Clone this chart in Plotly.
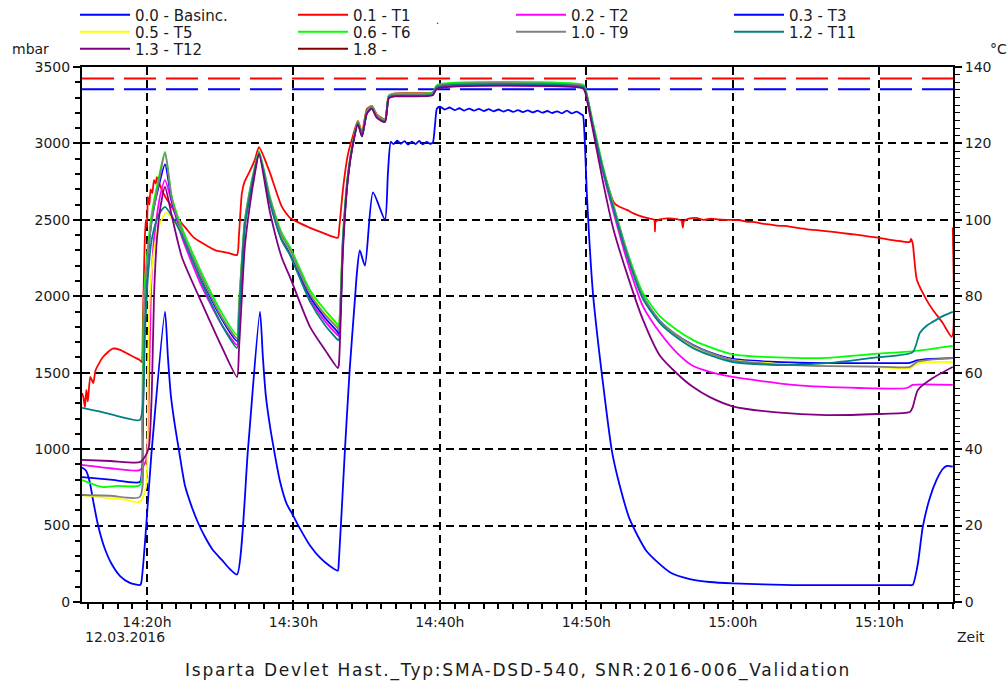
import plotly.graph_objects as go

DAY = "2016-03-12 "
FONT = "DejaVu Sans"

# ---- 0.0 - Basinc. (pressure, mbar, left axis) ----
P_TIME = ["14:15:34", "14:15:50", "14:16:05", "14:16:20", "14:16:40", "14:17:05", "14:17:35", "14:18:10",
          "14:18:50", "14:19:31", "14:19:36", "14:20:20", "14:21:14", "14:21:26", "14:21:38", "14:21:55",
          "14:22:11", "14:22:36", "14:23:04", "14:23:29", "14:23:58", "14:24:30", "14:25:07", "14:25:40",
          "14:26:09", "14:26:54", "14:27:43", "14:27:55", "14:28:07", "14:28:24", "14:28:40", "14:29:05",
          "14:29:33", "14:29:54", "14:30:27", "14:31:08", "14:31:49", "14:32:29", "14:33:02", "14:33:06",
          "14:33:31", "14:33:51", "14:34:12", "14:34:20", "14:34:32", "14:34:53", "14:35:26", "14:36:15",
          "14:36:27", "14:36:39", "14:36:50", "14:37:05", "14:37:20", "14:37:35", "14:37:50", "14:38:05",
          "14:38:20", "14:38:35", "14:38:50", "14:39:05", "14:39:20", "14:39:31", "14:39:40", "14:39:48",
          "14:40:00", "14:40:20", "14:40:40", "14:41:00", "14:41:20", "14:41:40", "14:42:00", "14:42:20",
          "14:42:40", "14:43:00", "14:43:20", "14:43:40", "14:44:00", "14:44:20", "14:44:40", "14:45:00",
          "14:45:20", "14:45:40", "14:46:00", "14:46:20", "14:46:40", "14:47:00", "14:47:20", "14:47:40",
          "14:48:00", "14:48:20", "14:48:40", "14:49:00", "14:49:20", "14:49:40", "14:49:46", "14:49:54",
          "14:50:02", "14:50:27", "14:50:47", "14:51:03", "14:51:44", "14:52:17", "14:52:58", "14:54:08",
          "14:55:42", "14:57:04", "14:58:26", "15:00:00", "15:04:06", "15:08:00", "15:11:00", "15:12:00",
          "15:12:17", "15:12:38", "15:12:58", "15:13:27", "15:13:55", "15:14:20", "15:14:37", "15:15:01"]
P_MBAR = [880, 860, 790, 660, 500, 360, 250, 170,
          125, 110, 120, 1000, 1900, 1600, 1350, 1150,
          994, 760, 621, 520, 425, 340, 275, 215,
          180, 1000, 1900, 1600, 1350, 1150, 1000, 790,
          640, 580, 480, 370, 290, 235, 205, 260,
          994, 1530, 1980, 2150, 2300, 2200, 2680, 2500,
          2800, 3010, 2995, 3018, 2998, 3015, 2992, 3012,
          2996, 3016, 2994, 3010, 2998, 3005, 3120, 3228,
          3240, 3222, 3235, 3218, 3230, 3215, 3228, 3214,
          3226, 3212, 3224, 3210, 3222, 3208, 3220, 3206,
          3218, 3205, 3216, 3203, 3214, 3201, 3212, 3199,
          3210, 3197, 3215, 3196, 3208, 3190, 3185, 3000,
          2675, 2021, 1714, 1498, 994, 760, 540, 330,
          195, 150, 131, 122, 111, 110, 110, 110,
          112, 250, 490, 680, 800, 870, 890, 885]

# ---- 0.1 - T1 (°C, right axis) ----
T1_TIME = ["14:15:34", "14:15:40", "14:15:46", "14:15:52", "14:15:58", "14:16:08", "14:16:20", "14:16:30",
           "14:17:00", "14:17:40", "14:18:10", "14:18:40", "14:19:10", "14:19:31", "14:19:38", "14:19:44",
           "14:19:50", "14:19:55", "14:20:00", "14:20:04", "14:20:10", "14:20:15", "14:20:22", "14:20:29",
           "14:20:36", "14:20:41", "14:20:48", "14:21:00", "14:21:20", "14:21:42", "14:22:10", "14:22:36",
           "14:23:10", "14:23:45", "14:24:39", "14:25:36", "14:26:09", "14:26:17", "14:26:29", "14:26:40",
           "14:26:58", "14:27:22", "14:27:39", "14:28:20", "14:29:13", "14:29:46", "14:30:06", "14:31:08",
           "14:32:01", "14:33:02", "14:33:08", "14:33:23", "14:33:43", "14:34:04", "14:34:24", "14:34:41",
           "14:35:01", "14:35:21", "14:35:42", "14:36:15", "14:36:31", "14:36:56", "14:39:31", "14:39:48",
           "14:49:46", "14:49:54", "14:50:27", "14:51:08", "14:51:49", "14:51:57", "14:52:20", "14:52:46",
           "14:53:20", "14:53:51", "14:54:20", "14:54:38", "14:54:41", "14:54:44", "14:55:01", "14:55:30",
           "14:56:11", "14:56:30", "14:56:35", "14:56:40", "14:57:00", "14:57:30", "14:58:00", "14:58:30",
           "14:59:00", "14:59:35", "15:00:30", "15:01:00", "15:01:30", "15:02:00", "15:02:30", "15:03:00",
           "15:03:30", "15:04:06", "15:05:00", "15:06:00", "15:07:00", "15:08:00", "15:08:40", "15:09:20",
           "15:10:00", "15:10:55", "15:11:30", "15:12:05", "15:12:10", "15:12:17", "15:12:34", "15:13:14",
           "15:13:39", "15:14:20", "15:14:57", "15:15:01"]
T1_VAL = [54.7, 53.5, 51.0, 55.5, 52.5, 58.9, 57.3, 60.7,
          64.1, 66.3, 66.0, 65.0, 64.0, 63.3, 62.8, 75.0,
          92.0, 100.0, 98.0, 106.0, 104.0, 108.0, 107.0, 110.4,
          109.5, 111.2, 110.0, 108.0, 105.5, 103.4, 100.0, 98.1,
          95.5, 94.0, 92.1, 91.3, 90.8, 96.0, 107.0, 110.0,
          112.3, 115.7, 119.0, 113.0, 103.4, 100.5, 99.8, 97.9,
          96.6, 95.3, 98.0, 108.0, 117.0, 122.0, 125.9, 123.0,
          129.0, 129.8, 127.6, 126.3, 132.5, 133.1, 133.4, 134.9,
          134.9, 134.0, 124.5, 113.2, 105.0, 104.2, 103.3, 102.6,
          101.5, 100.8, 100.3, 100.0, 97.0, 99.6, 100.1, 100.4,
          100.2, 99.8, 98.0, 99.7, 100.3, 100.5, 100.0, 100.3,
          100.1, 100.0, 99.9, 99.5, 99.4, 99.0, 98.8, 98.5,
          98.4, 98.1, 97.6, 97.2, 96.8, 96.3, 96.0, 95.6,
          95.3, 94.7, 94.4, 94.2, 95.0, 93.8, 84.3, 79.0,
          76.5, 73.0, 69.4, 98.0]

# ---- 0.2 - T2 ----
T2_TIME = ["14:15:34", "14:17:30", "14:19:31", "14:19:56", "14:20:08", "14:20:16", "14:20:29", "14:20:53",
           "14:21:14", "14:21:42", "14:22:23", "14:23:45", "14:25:07", "14:26:09", "14:26:17", "14:26:29",
           "14:26:41", "14:27:02", "14:27:22", "14:27:39", "14:28:24", "14:29:13", "14:29:46", "14:31:08",
           "14:32:09", "14:33:02", "14:33:06", "14:33:23", "14:33:43", "14:34:04", "14:34:24", "14:34:41",
           "14:35:01", "14:35:21", "14:35:42", "14:36:15", "14:36:31", "14:36:56", "14:39:31", "14:39:48",
           "14:49:46", "14:49:54", "14:50:27", "14:51:08", "14:51:49", "14:52:46", "14:53:51", "14:55:01",
           "14:56:11", "14:57:16", "14:58:26", "15:00:00", "15:04:06", "15:08:40", "15:11:53", "15:12:17",
           "15:15:01"]
T2_VAL = [35.9, 35.0, 34.5, 37.0, 55.0, 80.0, 95.0, 106.0,
          110.4, 104.5, 95.5, 82.5, 72.5, 67.3, 75.0, 87.5,
          98.5, 106.8, 113.2, 117.5, 104.8, 94.7, 91.0, 79.2,
          73.5, 69.8, 69.6, 93.5, 111.0, 120.0, 125.2, 122.0,
          128.0, 129.3, 126.9, 125.8, 132.0, 132.5, 132.8, 134.5,
          134.6, 134.3, 124.3, 112.5, 102.5, 89.5, 77.5, 70.5,
          65.2, 61.8, 60.2, 58.9, 56.8, 56.0, 56.0, 56.8,
          56.8]

# ---- 0.3 - T3 ----
T3_TIME = ["14:15:34", "14:17:30", "14:19:31", "14:19:40", "14:19:48", "14:20:00", "14:20:20", "14:20:49",
           "14:21:14", "14:21:42", "14:22:23", "14:23:45", "14:25:07", "14:26:09", "14:26:17", "14:26:29",
           "14:26:41", "14:27:02", "14:27:22", "14:27:39", "14:28:24", "14:29:13", "14:29:46", "14:31:08",
           "14:32:09", "14:33:02", "14:33:06", "14:33:23", "14:33:43", "14:34:04", "14:34:24", "14:34:41",
           "14:35:01", "14:35:21", "14:35:42", "14:36:15", "14:36:31", "14:36:56", "14:39:31", "14:39:48",
           "14:49:46", "14:49:54", "14:50:27", "14:51:08", "14:51:49", "14:52:46", "14:53:51", "14:55:01",
           "14:56:11", "14:57:16", "14:58:26", "15:00:00", "15:03:00", "15:06:25", "15:09:50", "15:12:05",
           "15:12:34", "15:13:30", "15:15:01"]
T3_VAL = [32.7, 32.0, 31.4, 35.0, 70.0, 87.0, 100.0, 109.0,
          114.5, 105.0, 96.8, 84.5, 74.0, 68.3, 76.0, 88.5,
          99.0, 107.2, 113.4, 117.4, 105.2, 95.3, 91.6, 80.0,
          74.4, 70.6, 70.2, 94.5, 111.2, 120.0, 125.3, 122.1,
          128.1, 129.4, 127.0, 125.9, 132.2, 132.7, 133.0, 134.8,
          134.9, 134.4, 124.9, 113.4, 103.9, 91.4, 80.0, 73.6,
          69.8, 67.3, 65.3, 63.6, 62.8, 62.5, 62.5, 62.6,
          63.2, 63.6, 63.8]

# ---- 0.5 - T5 ----
T5_TIME = ["14:15:34", "14:16:56", "14:18:30", "14:19:31", "14:19:56", "14:20:04", "14:20:12", "14:20:29",
           "14:20:53", "14:21:18", "14:21:42", "14:22:23", "14:23:45", "14:25:07", "14:26:09", "14:26:17",
           "14:26:29", "14:26:41", "14:27:02", "14:27:22", "14:27:39", "14:28:24", "14:29:13", "14:29:46",
           "14:31:08", "14:32:09", "14:33:02", "14:33:06", "14:33:23", "14:33:43", "14:34:04", "14:34:24",
           "14:34:41", "14:35:01", "14:35:21", "14:35:42", "14:36:15", "14:36:31", "14:36:56", "14:39:31",
           "14:39:48", "14:49:46", "14:49:54", "14:50:27", "14:51:08", "14:51:49", "14:52:46", "14:53:51",
           "14:55:01", "14:56:11", "14:57:16", "14:58:26", "15:00:00", "15:03:00", "15:06:25", "15:09:50",
           "15:12:05", "15:12:34", "15:13:30", "15:15:01"]
T5_VAL = [28.0, 27.4, 26.8, 26.2, 30.0, 60.0, 80.0, 92.0,
          99.0, 101.8, 100.5, 96.5, 85.0, 74.6, 69.2, 77.0,
          88.5, 99.0, 107.0, 113.2, 117.3, 105.3, 95.6, 92.0,
          80.8, 75.5, 71.9, 71.2, 94.5, 111.3, 120.1, 125.4,
          122.1, 128.2, 129.5, 127.1, 125.9, 132.3, 132.7, 133.0,
          134.9, 135.0, 134.4, 124.8, 113.3, 103.8, 91.3, 79.8,
          73.4, 69.6, 67.0, 65.1, 63.3, 62.4, 61.8, 61.5,
          61.2, 62.3, 62.8, 62.8]

# ---- 0.6 - T6 ----
T6_TIME = ["14:15:34", "14:16:56", "14:18:00", "14:19:31", "14:19:40", "14:19:48", "14:20:00", "14:20:20",
           "14:20:49", "14:21:14", "14:21:42", "14:22:23", "14:23:45", "14:25:07", "14:26:09", "14:26:17",
           "14:26:29", "14:26:41", "14:27:02", "14:27:22", "14:27:39", "14:28:24", "14:29:13", "14:29:46",
           "14:31:08", "14:32:09", "14:33:02", "14:33:06", "14:33:23", "14:33:43", "14:34:04", "14:34:24",
           "14:34:41", "14:35:01", "14:35:21", "14:35:42", "14:36:15", "14:36:31", "14:36:56", "14:39:31",
           "14:39:48", "14:49:46", "14:49:54", "14:50:27", "14:51:08", "14:51:49", "14:52:46", "14:53:51",
           "14:55:01", "14:56:11", "14:57:16", "14:58:26", "15:00:00", "15:03:00", "15:06:25", "15:09:50",
           "15:12:17", "15:15:01"]
T6_VAL = [31.9, 30.1, 30.4, 30.6, 47.6, 79.8, 90.3, 101.8,
          111.2, 117.8, 106.0, 98.0, 86.0, 75.6, 69.9, 78.0,
          90.0, 100.0, 108.0, 114.0, 118.0, 106.0, 96.5, 92.9,
          81.6, 76.4, 72.5, 71.8, 96.0, 112.0, 120.5, 125.7,
          122.4, 128.5, 129.8, 127.4, 126.2, 132.6, 133.0, 133.3,
          135.3, 135.4, 134.8, 125.5, 114.0, 104.4, 92.0, 81.0,
          74.8, 71.2, 68.6, 66.7, 64.8, 64.0, 63.9, 65.0,
          65.6, 67.0]

# ---- 1.0 - T9 ----
T9_TIME = ["14:15:34", "14:17:30", "14:19:31", "14:19:42", "14:19:48", "14:20:00", "14:20:20", "14:20:49",
           "14:21:14", "14:21:42", "14:22:23", "14:23:45", "14:25:07", "14:26:09", "14:26:17", "14:26:29",
           "14:26:41", "14:27:02", "14:27:22", "14:27:39", "14:28:24", "14:29:13", "14:29:46", "14:31:08",
           "14:32:09", "14:33:02", "14:33:06", "14:33:23", "14:33:43", "14:34:04", "14:34:24", "14:34:41",
           "14:35:01", "14:35:21", "14:35:42", "14:36:15", "14:36:31", "14:36:56", "14:39:31", "14:39:48",
           "14:49:46", "14:49:54", "14:50:27", "14:51:08", "14:51:49", "14:52:46", "14:53:51", "14:55:01",
           "14:56:11", "14:57:16", "14:58:26", "15:00:00", "15:03:00", "15:06:25", "15:09:50", "15:12:05",
           "15:12:34", "15:13:30", "15:15:01"]
T9_VAL = [28.0, 27.8, 27.5, 45.0, 75.0, 88.0, 100.0, 110.0,
          117.5, 105.5, 97.0, 85.0, 74.5, 69.0, 77.0, 89.0,
          99.5, 107.5, 113.5, 117.6, 105.5, 95.8, 92.2, 80.6,
          75.2, 71.6, 71.0, 95.0, 111.5, 120.2, 125.5, 122.2,
          128.3, 129.6, 127.2, 126.0, 132.4, 132.8, 133.1, 135.0,
          135.1, 134.5, 125.0, 113.5, 104.0, 91.5, 80.0, 73.5,
          69.8, 67.2, 65.2, 63.2, 62.2, 61.7, 61.6, 61.5,
          62.8, 63.4, 63.8]

# ---- 1.2 - T11 ----
T11_TIME = ["14:15:34", "14:16:56", "14:18:15", "14:19:31", "14:19:44", "14:19:52", "14:20:04", "14:20:20",
            "14:20:45", "14:21:14", "14:21:42", "14:22:23", "14:23:45", "14:25:07", "14:26:09", "14:26:17",
            "14:26:29", "14:26:41", "14:27:02", "14:27:22", "14:27:39", "14:28:24", "14:29:13", "14:29:46",
            "14:31:08", "14:32:09", "14:33:02", "14:33:06", "14:33:23", "14:33:43", "14:34:04", "14:34:24",
            "14:34:41", "14:35:01", "14:35:21", "14:35:42", "14:36:15", "14:36:31", "14:36:56", "14:39:31",
            "14:39:48", "14:49:46", "14:49:54", "14:50:27", "14:51:08", "14:51:49", "14:52:46", "14:53:51",
            "14:55:01", "14:56:11", "14:57:16", "14:58:26", "15:00:00", "15:03:00", "15:06:25", "15:09:50",
            "15:12:17", "15:12:46", "15:13:14", "15:13:39", "15:14:20", "15:15:01"]
T11_VAL = [50.8, 49.7, 48.4, 47.6, 52.0, 70.0, 85.0, 95.0,
           101.0, 103.4, 101.0, 96.0, 83.5, 72.5, 66.5, 74.0,
           87.0, 98.5, 106.5, 113.0, 117.3, 104.5, 94.5, 90.8,
           78.6, 72.5, 68.6, 68.5, 94.0, 111.0, 119.9, 125.2,
           121.9, 127.9, 129.2, 126.8, 125.7, 132.1, 132.5, 132.8,
           134.7, 134.8, 134.2, 124.5, 113.0, 103.3, 90.8, 79.4,
           73.0, 69.2, 66.5, 64.6, 62.8, 62.0, 62.5, 64.0,
           65.4, 70.4, 72.3, 73.3, 74.8, 75.9]

# ---- 1.3 - T12 ----
T12_TIME = ["14:15:34", "14:17:30", "14:19:31", "14:19:52", "14:20:08", "14:20:20", "14:20:29", "14:20:41",
            "14:20:57", "14:21:14", "14:21:42", "14:22:23", "14:23:45", "14:25:07", "14:26:09", "14:26:17",
            "14:26:29", "14:26:41", "14:27:02", "14:27:22", "14:27:39", "14:28:24", "14:29:13", "14:29:46",
            "14:31:08", "14:32:09", "14:33:02", "14:33:06", "14:33:23", "14:33:43", "14:34:04", "14:34:24",
            "14:34:41", "14:35:01", "14:35:21", "14:35:42", "14:36:15", "14:36:31", "14:36:56", "14:39:31",
            "14:39:48", "14:49:46", "14:49:54", "14:50:27", "14:51:08", "14:51:49", "14:52:46", "14:53:51",
            "14:55:01", "14:56:11", "14:57:16", "14:58:26", "15:00:00", "15:03:00", "15:06:25", "15:09:50",
            "15:12:05", "15:12:17", "15:12:38", "15:13:39", "15:15:01"]
T12_VAL = [37.2, 36.9, 36.6, 38.0, 40.6, 55.0, 80.0, 95.0,
           104.0, 108.6, 101.0, 90.3, 78.2, 66.7, 58.9, 66.0,
           80.0, 93.0, 104.0, 112.0, 117.2, 102.0, 90.0, 85.0,
           72.0, 66.0, 61.2, 62.0, 92.0, 110.5, 119.8, 125.0,
           121.8, 127.8, 129.1, 126.7, 125.6, 131.8, 132.3, 132.6,
           134.3, 134.4, 133.6, 123.5, 110.0, 98.0, 86.0, 74.0,
           64.5, 59.8, 56.3, 53.6, 51.2, 49.6, 48.9, 49.2,
           49.7, 51.0, 55.5, 58.6, 61.5]

# ---- 1.8 - (channel listed, no valid samples) ----
T18_TIME = ["15:15:01"]
T18_VAL = [None]

# set-point limits
T_LIMIT = 137.0      # °C
P_LIMIT = 3355.0     # mbar
X_START = "14:15:34"
X_END = "15:15:02"

# page geometry (px): plot area spans x 82..953, y 67..602
W, H = 1008, 684
M_L, M_R, M_T, M_B = 82, 55, 67, 82
PLOT_W = W - M_L - M_R
PLOT_H = H - M_T - M_B


def stamp(times):
    return [DAY + t for t in times]


def px_x(x):
    return (x - M_L) / PLOT_W


def px_y(y):
    return (H - M_B - y) / PLOT_H


LINE_SHAPE = dict(shape="spline", smoothing=0.6)

fig = go.Figure()

fig.add_trace(go.Scatter(x=stamp(P_TIME), y=P_MBAR, name="0.0 - Basinc.", mode="lines",
                         line=dict(color="#0000ff", width=1.8, **LINE_SHAPE), yaxis="y", legend="legend"))

temps = [
    ("0.1 - T1", T1_TIME, T1_VAL, "#ff0000", "legend"),
    ("0.2 - T2", T2_TIME, T2_VAL, "#ff00ff", "legend"),
    ("0.3 - T3", T3_TIME, T3_VAL, "#0000ff", "legend"),
    ("0.5 - T5", T5_TIME, T5_VAL, "#ffff00", "legend2"),
    ("0.6 - T6", T6_TIME, T6_VAL, "#00ff00", "legend2"),
    ("1.0 - T9", T9_TIME, T9_VAL, "#808080", "legend2"),
    ("1.2 - T11", T11_TIME, T11_VAL, "#008080", "legend2"),
    ("1.3 - T12", T12_TIME, T12_VAL, "#800080", "legend3"),
    ("1.8 -", T18_TIME, T18_VAL, "#800000", "legend3"),
]
for name, tt, vv, col, lg in temps:
    fig.add_trace(go.Scatter(x=stamp(tt), y=vv, name=name, mode="lines",
                             line=dict(color=col, width=1.8, **LINE_SHAPE), yaxis="y2", legend=lg))

# limit lines
fig.add_trace(go.Scatter(x=stamp([X_START, X_END]), y=[T_LIMIT, T_LIMIT], mode="lines",
                         line=dict(color="#ff0000", width=2, dash="32px,10px"),
                         yaxis="y2", showlegend=False, hoverinfo="skip"))
fig.add_trace(go.Scatter(x=stamp([X_START, X_END]), y=[P_LIMIT, P_LIMIT], mode="lines",
                         line=dict(color="#0000ff", width=2, dash="32px,10px"),
                         yaxis="y", showlegend=False, hoverinfo="skip"))

tickfont = dict(family=FONT, size=14, color="#1a1a1a")
grid = dict(showgrid=True, gridcolor="#000000", gridwidth=1.6, griddash="8px,5px")

fig.update_layout(
    width=W, height=H, autosize=False,
    margin=dict(l=M_L, r=M_R, t=M_T, b=M_B, autoexpand=False),
    paper_bgcolor="white", plot_bgcolor="white",
    font=dict(family=FONT, size=14, color="#1a1a1a"),
    xaxis=dict(type="date", range=stamp([X_START, X_END]),
               tick0=DAY + "14:00:00", dtick=600000, tickformat="%H:%Mh",
               ticks="outside", ticklen=6, tickwidth=1.5, tickcolor="black",
               minor=dict(dtick=60000, ticks="outside", ticklen=5, tickwidth=1.5, tickcolor="black"),
               showline=True, linecolor="black", linewidth=2, mirror=True,
               tickfont=tickfont, zeroline=False, **grid),
    yaxis=dict(range=[0, 3500], dtick=500, tick0=0,
               ticks="outside", ticklen=7, tickwidth=1.5, tickcolor="black",
               minor=dict(dtick=100, ticks="outside", ticklen=5, tickwidth=1.5, tickcolor="black"),
               showline=True, linecolor="black", linewidth=2,
               tickfont=tickfont, zeroline=False, **grid),
    yaxis2=dict(range=[0, 140], dtick=20, tick0=0, overlaying="y", side="right",
                ticks="outside", ticklen=7, tickwidth=1.5, tickcolor="black",
                minor=dict(dtick=2, ticks="outside", ticklen=5, tickwidth=1.2, tickcolor="black"),
                showline=True, linecolor="black", linewidth=2,
                tickfont=tickfont, showgrid=False, zeroline=False),
)

# three one-row legends stacked above the plot area (4 entries per row, 218 px apart)
legend_common = dict(orientation="h", xanchor="left", yanchor="middle", x=px_x(75),
                     entrywidth=153, entrywidthmode="pixels", bgcolor="rgba(0,0,0,0)",
                     font=dict(family=FONT, size=15, color="#1a1a1a"), itemwidth=50)
fig.update_layout(legend=dict(y=px_y(15), **legend_common),
                  legend2=dict(y=px_y(32), **legend_common),
                  legend3=dict(y=px_y(49), **legend_common))

notes = [
    ("mbar", 30, 49, 14),
    ("°C", 998, 49, 14),
    ("Zeit", 971, 637, 14),
    ("12.03.2016", 125, 637, 14),
    (".", 437, 20, 10),
]
for txt, xx, yy, sz in notes:
    fig.add_annotation(text=txt, x=px_x(xx), y=px_y(yy), xref="paper", yref="paper", showarrow=False,
                       xanchor="center", yanchor="middle", font=dict(family=FONT, size=sz, color="#1a1a1a"))

fig.add_annotation(
    text='<span style="letter-spacing:1.8px">Isparta Devlet Hast._Typ:SMA-DSD-540, SNR:2016-006_Validation</span>',
    x=0.5, y=px_y(670), xref="paper", yref="paper", showarrow=False, xanchor="center", yanchor="middle",
    font=dict(family=FONT, size=17, color="#1a1a1a"))

fig.write_html("out.html")
